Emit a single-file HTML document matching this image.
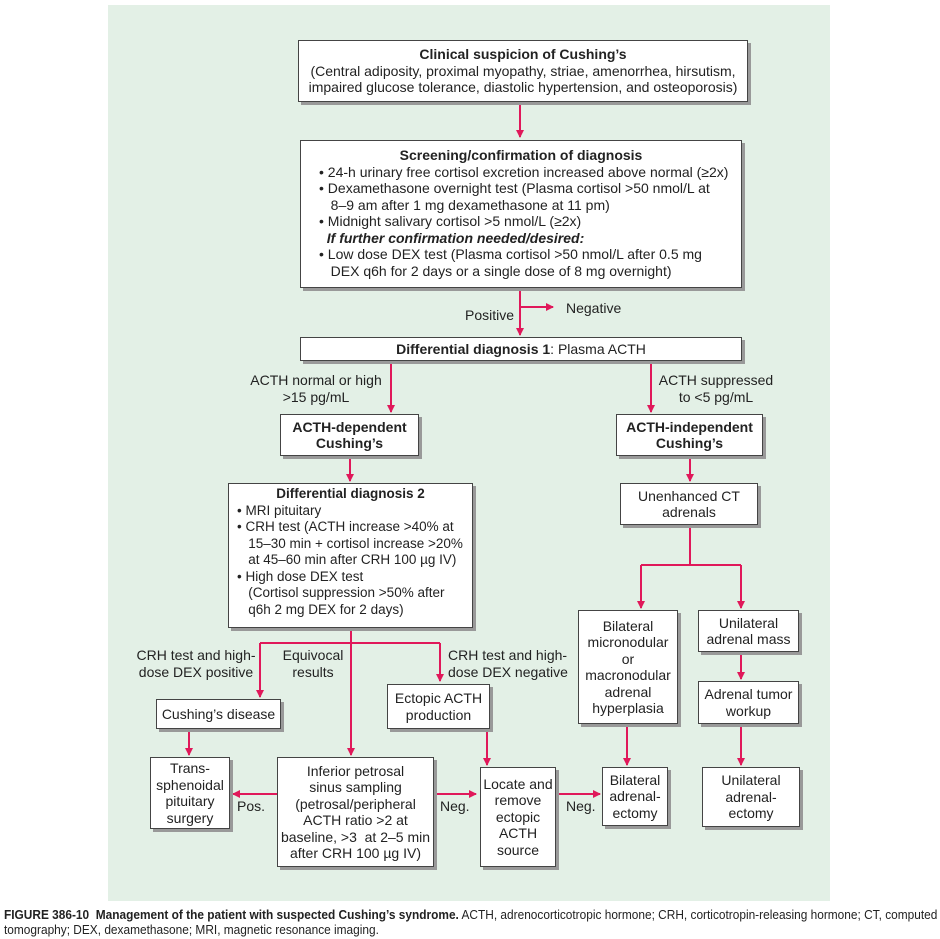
<!DOCTYPE html>
<html><head><meta charset="utf-8"><style>
body{margin:0;width:940px;height:939px;background:#fff;position:relative;overflow:hidden;font-family:"Liberation Sans",sans-serif;color:#222}
.panel{position:absolute;left:108px;top:5px;width:722px;height:896px;background:#e3f0e6}
.b{position:absolute;background:#fff;border:1.5px solid #444;box-shadow:3px 3px 0 #999;box-sizing:border-box;font-size:14px;line-height:16.5px;text-align:center;display:flex;flex-direction:column;justify-content:center;white-space:nowrap}
.l{position:absolute;font-size:14px;line-height:17px;color:#222;white-space:nowrap}
svg{position:absolute;left:0;top:0}
.cap{position:absolute;left:4px;top:908px;font-size:12.5px;line-height:15px;transform:scaleX(0.95);transform-origin:left;white-space:nowrap}
</style></head><body>
<div class="panel"></div>
<svg width="940" height="939">
<defs><marker id="a" markerWidth="8" markerHeight="8" refX="7" refY="4" orient="auto" markerUnits="userSpaceOnUse"><path d="M0,0 L8,4 L0,8 z" fill="#e0185a"/></marker></defs>
<g stroke="#e0185a" stroke-width="2" fill="none">
<line x1="520" y1="102" x2="520" y2="137" marker-end="url(#a)"/>
<line x1="520" y1="288" x2="520" y2="335" marker-end="url(#a)"/>
<line x1="520" y1="307" x2="553" y2="307" marker-end="url(#a)"/>
<line x1="391" y1="361" x2="391" y2="412" marker-end="url(#a)"/>
<line x1="651" y1="361" x2="651" y2="412" marker-end="url(#a)"/>
<line x1="350" y1="456" x2="350" y2="481" marker-end="url(#a)"/>
<line x1="690" y1="456" x2="690" y2="481" marker-end="url(#a)"/>
<polyline points="690,525 690,565"/>
<polyline points="641,565 741,565"/>
<line x1="641" y1="565" x2="641" y2="608" marker-end="url(#a)"/>
<line x1="741" y1="565" x2="741" y2="608" marker-end="url(#a)"/>
<line x1="741" y1="652" x2="741" y2="679" marker-end="url(#a)"/>
<line x1="741" y1="724" x2="741" y2="765" marker-end="url(#a)"/>
<line x1="627" y1="724" x2="627" y2="765" marker-end="url(#a)"/>
<polyline points="351,628 351,643"/>
<polyline points="260,643 440,643"/>
<line x1="260" y1="643" x2="260" y2="697" marker-end="url(#a)"/>
<line x1="440" y1="643" x2="440" y2="681" marker-end="url(#a)"/>
<line x1="351" y1="643" x2="351" y2="755" marker-end="url(#a)"/>
<line x1="189" y1="729" x2="189" y2="755" marker-end="url(#a)"/>
<line x1="487" y1="729" x2="487" y2="765" marker-end="url(#a)"/>
<line x1="277" y1="794" x2="233" y2="794" marker-end="url(#a)"/>
<line x1="434" y1="794" x2="476" y2="794" marker-end="url(#a)"/>
<line x1="555" y1="794" x2="600" y2="794" marker-end="url(#a)"/>
</g></svg>

<div class="b" style="left:298px;top:40px;width:450px;height:62px"><b>Clinical suspicion of Cushing’s</b>(Central adiposity, proximal myopathy, striae, amenorrhea, hirsutism,<br>impaired glucose tolerance, diastolic hypertension, and osteoporosis)</div>
<div class="b" style="left:300px;top:140px;width:442px;height:148px;text-align:left;padding-left:18px;display:block;padding-top:6px">
<div style="text-align:center;margin-left:-18px"><b>Screening/confirmation of diagnosis</b></div>
<div>• 24-h urinary free cortisol excretion increased above normal (≥2x)</div>
<div>• Dexamethasone overnight test (Plasma cortisol &gt;50 nmol/L at<br>&nbsp;&nbsp;&nbsp;8–9 am after 1 mg dexamethasone at 11 pm)</div>
<div>• Midnight salivary cortisol &gt;5 nmol/L (≥2x)</div>
<div>&nbsp;&nbsp;<b><i>If further confirmation needed/desired:</i></b></div>
<div>• Low dose DEX test (Plasma cortisol &gt;50 nmol/L after 0.5 mg<br>&nbsp;&nbsp;&nbsp;DEX q6h for 2 days or a single dose of 8 mg overnight)</div>
</div>
<div class="l" style="left:465px;top:307px">Positive</div>
<div class="l" style="left:566px;top:300px">Negative</div>
<div class="b" style="left:300px;top:337px;width:442px;height:24px"><span><b>Differential diagnosis 1</b>: Plasma ACTH</span></div>
<div class="l" style="left:249px;top:372px;text-align:center;width:134px">ACTH normal or high<br>&gt;15 pg/mL</div>
<div class="l" style="left:658px;top:372px;text-align:center;width:116px">ACTH suppressed<br>to &lt;5 pg/mL</div>
<div class="b" style="left:280px;top:414px;width:139px;height:42px"><b>ACTH-dependent<br>Cushing’s</b></div>
<div class="b" style="left:616px;top:414px;width:147px;height:42px"><b>ACTH-independent<br>Cushing’s</b></div>
<div class="b" style="left:228px;top:483px;width:245px;height:145px;text-align:left;display:block;padding:2px 0 0 8px;font-size:13.5px">
<div style="text-align:center;margin-left:-8px"><b>Differential diagnosis 2</b></div>
<div>• MRI pituitary</div>
<div>• CRH test (ACTH increase &gt;40% at<br>&nbsp;&nbsp;&nbsp;15–30 min + cortisol increase &gt;20%<br>&nbsp;&nbsp;&nbsp;at 45–60 min after CRH 100 µg IV)</div>
<div>• High dose DEX test<br>&nbsp;&nbsp;&nbsp;(Cortisol suppression &gt;50% after<br>&nbsp;&nbsp;&nbsp;q6h 2 mg DEX for 2 days)</div>
</div>
<div class="b" style="left:620px;top:483px;width:138px;height:42px">Unenhanced CT<br>adrenals</div>
<div class="b" style="left:578px;top:610px;width:100px;height:114px">Bilateral<br>micronodular<br>or<br>macronodular<br>adrenal<br>hyperplasia</div>
<div class="b" style="left:698px;top:610px;width:101px;height:42px">Unilateral<br>adrenal mass</div>
<div class="b" style="left:698px;top:681px;width:101px;height:43px">Adrenal tumor<br>workup</div>
<div class="b" style="left:602px;top:767px;width:66px;height:59px">Bilateral<br>adrenal-<br>ectomy</div>
<div class="b" style="left:702px;top:767px;width:98px;height:60px">Unilateral<br>adrenal-<br>ectomy</div>
<div class="l" style="left:134px;top:647px;text-align:center;width:124px">CRH test and high-<br>dose DEX positive</div>
<div class="l" style="left:280px;top:647px;text-align:center;width:66px">Equivocal<br>results</div>
<div class="l" style="left:448px;top:647px;">CRH test and high-<br>dose DEX negative</div>
<div class="b" style="left:156px;top:699px;width:125px;height:30px">Cushing’s disease</div>
<div class="b" style="left:387px;top:684px;width:103px;height:45px">Ectopic ACTH<br>production</div>
<div class="b" style="left:150px;top:757px;width:80px;height:72px">Trans-<br>sphenoidal<br>pituitary<br>surgery</div>
<div class="b" style="left:277px;top:757px;width:157px;height:110px">Inferior petrosal<br>sinus sampling<br>(petrosal/peripheral<br>ACTH ratio &gt;2 at<br>baseline, &gt;3&nbsp; at 2–5 min<br>after CRH 100 µg IV)</div>
<div class="b" style="left:480px;top:767px;width:76px;height:100px">Locate and<br>remove<br>ectopic<br>ACTH<br>source</div>
<div class="l" style="left:237px;top:798px">Pos.</div>
<div class="l" style="left:440px;top:798px">Neg.</div>
<div class="l" style="left:566px;top:798px">Neg.</div>
<div class="cap"><b>FIGURE 386-10&nbsp; Management of the patient with suspected Cushing’s syndrome.</b> ACTH, adrenocorticotropic hormone; CRH, corticotropin-releasing hormone; CT, computed<br>tomography; DEX, dexamethasone; MRI, magnetic resonance imaging.</div>
</body></html>
